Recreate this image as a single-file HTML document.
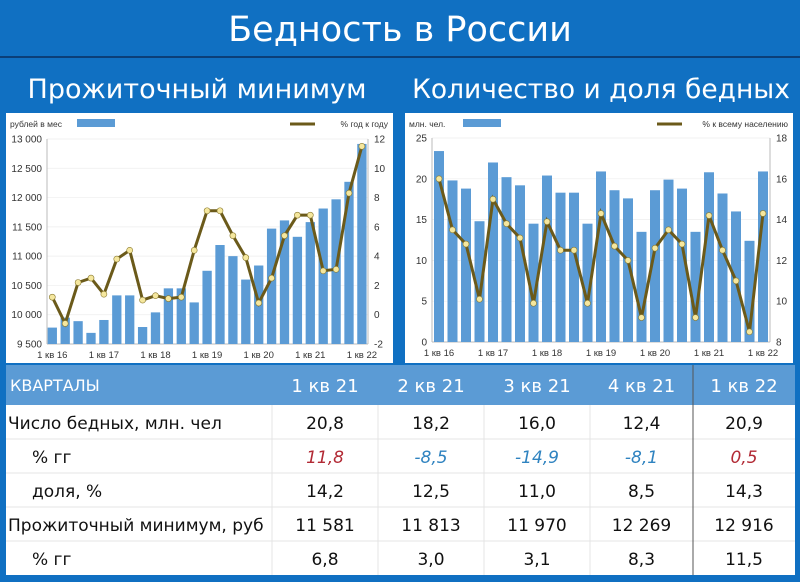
<!DOCTYPE html>
<html><head><meta charset="utf-8"><style>
body{margin:0;width:800px;height:582px;background:#1070c2;overflow:hidden;font-family:"Liberation Sans","DejaVu Sans",sans-serif}
svg{position:absolute;left:0;top:0}
</style></head><body>
<svg id="s" width="800" height="582" xmlns="http://www.w3.org/2000/svg"></svg>
<script>
const S=document.getElementById('s');let h='';
const F='font-family="DejaVu Sans, Liberation Sans, sans-serif"';
h+=`<rect width="800" height="582" fill="#1070c2"/>`;
h+=`<line x1="0" y1="57" x2="800" y2="57" stroke="#0b3f78" stroke-width="2"/>`;
h+=`<text x="400" y="41" fill="#fff" font-size="35" text-anchor="middle" ${F}>Бедность в России</text>`;
h+=`<text x="197" y="98" fill="#fff" font-size="27" text-anchor="middle" ${F}>Прожиточный минимум</text>`;
h+=`<text x="601" y="98" fill="#fff" font-size="26.5" text-anchor="middle" ${F}>Количество и доля бедных</text>`;
function chart(o){
 h+=`<rect x="${o.px}" y="113" width="${o.pw}" height="250" fill="#fff"/>`;
 const y=v=>o.y0+(o.max-v)/(o.max-o.min)*(o.y1-o.y0);
 const y2=v=>o.y0+(o.rmax-v)/(o.rmax-o.rmin)*(o.y1-o.y0);
 for(let v=o.min;v<=o.max+1e-6;v+=o.step){h+=`<line x1="${o.x0}" x2="${o.x1}" y1="${y(v)}" y2="${y(v)}" stroke="#eee" stroke-width="0.7"/>`;
  h+=`<text x="${o.x0-5}" y="${y(v)+3.5}" font-size="10" text-anchor="end" fill="#333">${o.fmt(v)}</text>`;}
 for(let v=o.rmin;v<=o.rmax;v+=2)h+=`<text x="${o.x1+6}" y="${y2(v)+3.5}" font-size="10" fill="#333">${v}</text>`;
 h+=`<line x1="${o.x0}" x2="${o.x0}" y1="${o.y0}" y2="${o.y1}" stroke="#bbb"/><line x1="${o.x1}" x2="${o.x1}" y1="${o.y0}" y2="${o.y1}" stroke="#bbb"/><line x1="${o.x0}" x2="${o.x1}" y1="${o.y1}" y2="${o.y1}" stroke="#bbb"/>`;
 let pts=[];
 o.bars.forEach((b,i)=>{const cx=o.c0+i*o.sp;h+=`<rect x="${cx-o.bw/2}" y="${y(b)}" width="${o.bw}" height="${o.y1-y(b)}" fill="#5b9bd5"/>`;pts.push([cx,y2(o.line[i])]);
  if(i%4==0)h+=`<text x="${cx}" y="${o.y1+14}" font-size="9.5" text-anchor="middle" fill="#333">1 кв ${16+i/4}</text>`;});
 h+=`<polyline points="${pts.map(p=>p.join(',')).join(' ')}" fill="none" stroke="#6b5a1a" stroke-width="3"/>`;
 pts.forEach(p=>h+=`<circle cx="${p[0]}" cy="${p[1]}" r="3" fill="#f5e79e" stroke="#8a7a30" stroke-width="0.6"/>`);
 h+=`<text x="${o.px+4}" y="127" font-size="8.5" fill="#333">${o.l1}</text><rect x="${o.lr}" y="119" width="38" height="8" fill="#5b9bd5"/>`;
 h+=`<line x1="${o.ll}" x2="${o.ll+25}" y1="124" y2="124" stroke="#6b5a1a" stroke-width="3"/><text x="${o.px+o.pw-5}" y="127" font-size="8.5" fill="#333" text-anchor="end">${o.l2}</text>`;
}
const sp=n=>n.toString().replace(/\B(?=(\d{3})+(?!\d))/g,' ');
chart({px:6,pw:387,x0:47,x1:368,y0:139,y1:344,min:9500,max:13000,step:500,rmin:-2,rmax:12,c0:52.3,sp:12.9,bw:9.3,fmt:sp,
 bars:[9780,9950,9890,9690,9910,10330,10330,9790,10040,10450,10450,10210,10750,11190,11000,10600,10840,11470,11610,11330,11581,11813,11970,12269,12916],
 line:[1.2,-0.6,2.2,2.5,1.4,3.8,4.4,1.0,1.3,1.1,1.2,4.4,7.1,7.1,5.4,3.9,0.8,2.5,5.4,6.8,6.8,3.0,3.1,8.3,11.5],
 l1:'рублей в мес',lr:77,ll:290,l2:'%  год к году'});
chart({px:405,pw:388,x0:432,x1:770,y0:138,y1:342,min:0,max:25,step:5,rmin:8,rmax:18,c0:439,sp:13.5,bw:10,fmt:v=>v,
 bars:[23.4,19.8,18.8,14.8,22.0,20.2,19.2,14.5,20.4,18.3,18.3,14.5,20.9,18.6,17.6,13.5,18.6,19.9,18.8,13.5,20.8,18.2,16.0,12.4,20.9],
 line:[16.0,13.5,12.8,10.1,15.0,13.8,13.1,9.9,13.9,12.5,12.5,9.9,14.3,12.7,12.0,9.2,12.6,13.5,12.8,9.2,14.2,12.5,11.0,8.5,14.3],
 l1:'млн. чел.',lr:463,ll:657,l2:'%  к всему населению'});
const cols=[6,272,378,484,590,693,795];
h+=`<rect x="6" y="365" width="789" height="40" fill="#5b9bd5"/><rect x="6" y="405" width="789" height="170" fill="#fff"/>`;
h+=`<text x="10" y="391" font-size="16" fill="#fff" ${F}>КВАРТАЛЫ</text>`;
const hd=['1 кв 21','2 кв 21','3 кв 21','4 кв 21','1 кв 22'];
hd.forEach((t,i)=>h+=`<text x="${(cols[i+1]+cols[i+2])/2}" y="392" font-size="18" fill="#fff" text-anchor="middle" ${F}>${t}</text>`);
const rows=[['Число бедных, млн. чел',['20,8','18,2','16,0','12,4','20,9'],0],['   % гг',['11,8','-8,5','-14,9','-8,1','0,5'],1],['   доля, %',['14,2','12,5','11,0','8,5','14,3'],0],['Прожиточный минимум, руб',['11 581','11 813','11 970','12 269','12 916'],0],['   % гг',['6,8','3,0','3,1','8,3','11,5'],0]];
rows.forEach((r,j)=>{const yb=405+j*34;
 if(j>0)h+=`<line x1="6" x2="795" y1="${yb}" y2="${yb}" stroke="#e4e4e4"/>`;
 const ind=r[0].startsWith(' ');
 h+=`<text x="${ind?32:8}" y="${yb+24}" font-size="17" fill="#111" ${F}>${r[0].trim()}</text>`;
 r[1].forEach((v,i)=>{let c='#111',st='';if(r[2]){c=v.startsWith('-')?'#2f83c0':'#b22a35';st='font-style="italic"';}
  h+=`<text x="${(cols[i+1]+cols[i+2])/2}" y="${yb+24}" font-size="17" fill="${c}" ${st} text-anchor="middle" ${F}>${v}</text>`;});});
for(let i=1;i<6;i++)h+=`<line x1="${cols[i]}" x2="${cols[i]}" y1="${i==5?365:405}" y2="575" stroke="${i==5?'#555':'#e4e4e4'}"/>`;
S.innerHTML=h;
</script>
</body></html>
